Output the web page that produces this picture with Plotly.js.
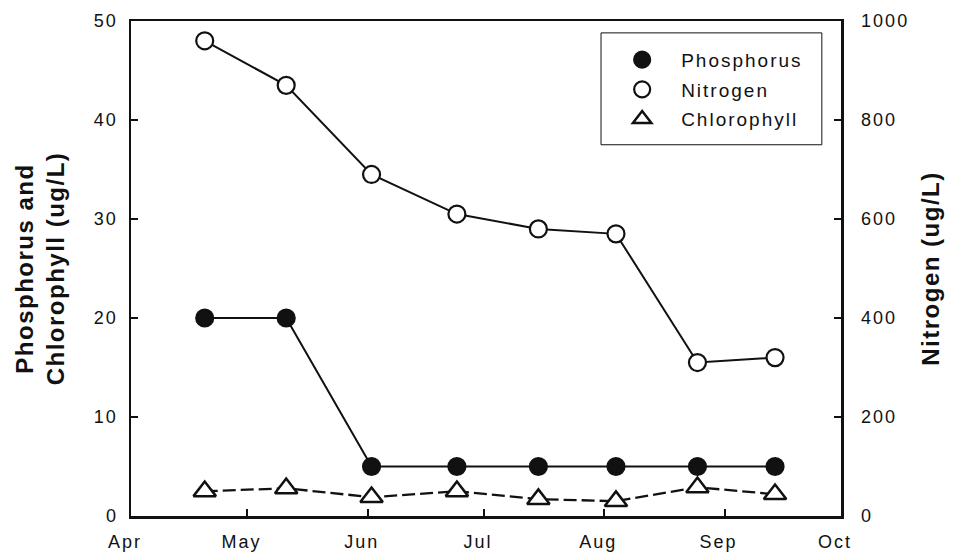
<!DOCTYPE html>
<html>
<head>
<meta charset="utf-8">
<script src="https://cdn.plot.ly/plotly-3.0.1.min.js"></script>
<style>
html,body{margin:0;padding:0;background:#fff;}
#chart{width:962px;height:557px;}
.xtick text,.ytick text,.y2tick text{letter-spacing:2px;}
.legendtext{letter-spacing:2px;}
.ytitle,.y2title{letter-spacing:1.5px;}
</style>
</head>
<body>
<div id="chart"></div>
<script>
// ---- data ----
const sampleDates = ['2001-04-20','2001-05-11','2001-06-02','2001-06-24','2001-07-15','2001-08-04','2001-08-25','2001-09-14'];
const phosphorus  = [20, 20, 5, 5, 5, 5, 5, 5];
const nitrogen    = [960, 870, 690, 610, 580, 570, 310, 320];
const chlorophyll = [2.5, 2.8, 1.9, 2.5, 1.7, 1.5, 2.9, 2.2];
const monthTicks  = ['2001-04-01','2001-05-01','2001-06-01','2001-07-01','2001-08-01','2001-09-01','2001-10-01'];
const monthLabels = ['Apr','May','Jun','Jul','Aug','Sep','Oct'];
const leftTicks   = [0, 10, 20, 30, 40, 50];
const rightTicks  = [0, 200, 400, 600, 800, 1000];
const seriesNames = ['Phosphorus','Nitrogen','Chlorophyll'];

const INK = '#111';

function lineTrace(y, axis, dash, w){
  return {x: sampleDates, y: y, yaxis: axis, type:'scatter', mode:'lines',
          line:{color:INK, width:w, dash:dash}, showlegend:false, hoverinfo:'skip'};
}
function markTrace(name, y, axis, symbol, fill, size, lw){
  return {x: sampleDates, y: y, yaxis: axis, type:'scatter', mode:'markers', name:name,
          legendgroup:name,
          marker:{symbol:symbol, size:size, color:fill, line:{color:INK, width:lw}}};
}

const data = [
  lineTrace(phosphorus, 'y', 'solid', 2),
  lineTrace(nitrogen, 'y2', 'solid', 2),
  lineTrace(chlorophyll, 'y', '13px,5px', 2.3),
  markTrace(seriesNames[0], phosphorus, 'y', 'circle', INK, 17, 2.2),
  markTrace(seriesNames[1], nitrogen, 'y2', 'circle', '#fff', 17, 2.2),
  markTrace(seriesNames[2], chlorophyll, 'y', 'triangle-up', '#fff', 19.5, 2.5)
];

const axisCommon = {
  showgrid:false, zeroline:false, showline:true, linewidth:2.5, linecolor:INK,
  ticks:'inside', ticklen:7, tickwidth:2, tickcolor:INK, tickmode:'array'
};

const layout = {
  width:962, height:557,
  margin:{l:131, r:121, t:21, b:41, pad:0},
  paper_bgcolor:'#fff', plot_bgcolor:'#fff',
  font:{family:'"Liberation Sans", Arial, sans-serif', size:18, color:INK},
  showlegend:true,
  legend:{x:0.665, y:0.96, xanchor:'left', yanchor:'top', bgcolor:'rgba(0,0,0,0)',
          borderwidth:0, font:{size:19}, itemwidth:68, tracegroupgap:2},
  xaxis: Object.assign({}, axisCommon, {
    type:'date', range:[monthTicks[0], monthTicks[monthTicks.length-1]],
    tickvals:monthTicks, ticktext:monthLabels, mirror:true,
    ticklabelshift:-6, ticklabelstandoff:8
  }),
  yaxis: Object.assign({}, axisCommon, {
    range:[0, 50], tickvals:leftTicks, ticktext:leftTicks.map(String),
    ticklabelstandoff:7, automargin:false,
    title:{text:'Phosphorus and<br>Chlorophyll (ug/L)', font:{size:24, weight:'bold'}, standoff:23}
  }),
  yaxis2: Object.assign({}, axisCommon, {
    overlaying:'y', side:'right', anchor:'x',
    range:[0, 1000], tickvals:rightTicks, ticktext:rightTicks.map(String),
    ticklabelstandoff:14, automargin:false,
    title:{text:'Nitrogen (ug/L)', font:{size:24, weight:'bold'}, standoff:14}
  }),
  shapes:[{type:'rect', xref:'paper', yref:'paper', x0:0.662, x1:0.973, y0:0.75, y1:0.976,
           line:{color:INK, width:1}, fillcolor:'rgba(0,0,0,0)', layer:'above'}]
};

Plotly.newPlot('chart', data, layout, {staticPlot:true, displayModeBar:false});
</script>
</body>
</html>
